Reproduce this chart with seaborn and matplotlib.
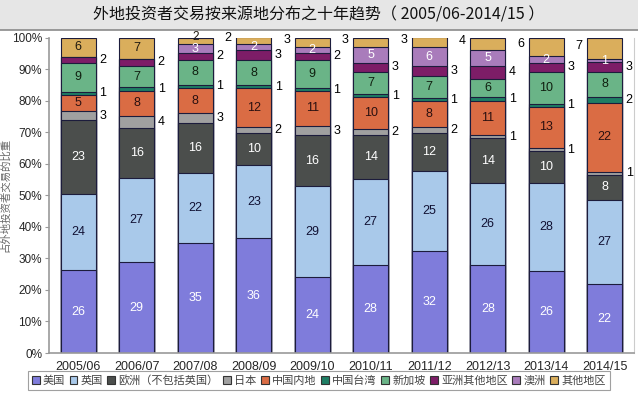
"""
外地投资者交易按来源地分布之十年趋势 —— 百分比堆积柱状图
"""
import matplotlib
matplotlib.use("Agg")
import matplotlib.pyplot as plt
from matplotlib.patches import Patch, Rectangle
from matplotlib.lines import Line2D
import numpy as np
import seaborn as sns

sns.set_style("white")
plt.rcParams["font.family"] = ["Liberation Sans", "Noto Sans CJK SC"]
plt.rcParams["axes.unicode_minus"] = False

# 数据（各来源地所占百分比）
periods = ["2005/06", "2006/07", "2007/08", "2008/09", "2009/10",
           "2010/11", "2011/12", "2012/13", "2013/14", "2014/15"]
us = [26, 29, 35, 36, 24, 28, 32, 28, 26, 22]
uk = [24, 27, 22, 23, 29, 27, 25, 26, 28, 27]
europe = [23, 16, 16, 10, 16, 14, 12, 14, 10, 8]
japan = [3, 4, 3, 2, 3, 2, 2, 1, 1, 1]
mainland = [5, 8, 8, 12, 11, 10, 8, 11, 13, 22]
taiwan = [1, 1, 1, 1, 1, 1, 1, 1, 1, 2]
singapore = [9, 7, 8, 8, 9, 7, 7, 6, 10, 8]
asia_other = [2, 2, 2, 3, 2, 3, 3, 4, 3, 3]
australia = [0, 0, 3, 2, 2, 5, 6, 5, 2, 1]
other = [6, 7, 2, 2, 3, 3, 3, 4, 6, 7]

series = [
    # 名称, 数值, 颜色, 标注颜色, 标注位置
    ("美国", us, "#7f7cdb", "white", "in"),
    ("英国", uk, "#a9c9ea", "#111133", "in"),
    ("欧洲（不包括英国）", europe, "#4b4e4c", "white", "in"),
    ("日本", japan, "#a0a0a0", "black", "right"),
    ("中国内地", mainland, "#da6c44", "#2a1010", "in"),
    ("中国台湾", taiwan, "#1e7e64", "black", "right"),
    ("新加坡", singapore, "#6ab487", "#102010", "in"),
    ("亚洲其他地区", asia_other, "#7d1d67", "black", "right"),
    ("澳洲", australia, "#a97cbb", "white", "in"),
    ("其他地区", other, "#daae5c", "#201a10", "in"),
]
# 其他地区：前三年标在柱内，之后标在柱左侧
other_pos = ["in", "in", "top", "left", "left", "left", "left", "left", "left", "left"]

edge = "#1c1c3c"
width = 0.6

vals = np.array([s[1] for s in series], dtype=float)
pct = vals / vals.sum(axis=0) * 100
cum = pct.cumsum(axis=0)

fig = plt.figure(figsize=(6.38, 3.97), dpi=100)
ax = fig.add_axes([49 / 638, 44 / 397, 585 / 638, 315.5 / 397])

# 标题栏
fig.patches.append(Rectangle((0, 1 - 30 / 397), 1, 30 / 397, transform=fig.transFigure,
                             facecolor="#e6e6e6", edgecolor="none", zorder=0))
fig.lines.append(Line2D([0, 1], [1 - 30 / 397] * 2, transform=fig.transFigure,
                        color="#8a8a8a", lw=1.2))
fig.text(0.5, 1 - 15 / 397, "外地投资者交易按来源地分布之十年趋势（ 2005/06-2014/15 ）",
         ha="center", va="center", fontsize=11.5, family=["Noto Sans CJK SC"], color="#111111")

# 由上至下叠加绘制累计高度，形成堆积效果
for k in range(len(series) - 1, -1, -1):
    sns.barplot(x=periods, y=cum[k], color=series[k][2], saturation=1, width=width,
                edgecolor=edge, linewidth=0.8, ax=ax)

# 数据标注
for k, (name, v, color, tcolor, pos) in enumerate(series):
    for i, val in enumerate(v):
        if val == 0:
            continue
        p = other_pos[i] if name == "其他地区" else pos
        yc = cum[k][i] - pct[k][i] / 2
        if p == "in":
            ax.text(i, yc, str(val), ha="center", va="center", fontsize=9, color=tcolor)
        elif p == "top":
            ax.text(i, yc + 1.2, str(val), ha="center", va="center", fontsize=8.5,
                    color=tcolor, clip_on=False)
        elif p == "right":
            ax.text(i + width / 2 + 0.06, yc, str(val), ha="left", va="center",
                    fontsize=9, color="black")
        else:
            ax.text(i - width / 2 - 0.08, yc + 0.8, str(val), ha="right", va="center",
                    fontsize=9, color="black")

ax.set_xlim(-0.5, len(periods) - 0.5)
ax.set_ylim(0, 100)
ax.set_yticks(np.arange(0, 101, 10))
ax.set_yticklabels([f"{t}%" for t in range(0, 101, 10)], fontsize=8.5)
ax.set_xticks(range(len(periods)))
ax.set_xticklabels(periods, fontsize=9)
ax.set_xticks(np.arange(0.5, len(periods) - 0.5, 1), minor=True)
ax.tick_params(axis="x", which="major", length=0, pad=6)
ax.tick_params(axis="x", which="minor", length=4, color="#999999", direction="out")
ax.tick_params(axis="y", length=3, color="#999999", direction="out", left=True, pad=2)
ax.set_xlabel("")
ax.set_ylabel("占外地投资者交易的比重", fontsize=7.5, color="#666666")
ax.yaxis.set_label_coords(-39 / 585, 0.5)

for side in ["left", "bottom"]:
    ax.spines[side].set_color("#999999")
    ax.spines[side].set_linewidth(1.2)
ax.spines["right"].set_color("#cccccc")
ax.spines["top"].set_visible(False)

handles = [Patch(facecolor=s[2], edgecolor="#333333", linewidth=0.8) for s in series]
labels = [s[0] for s in series]
leg = fig.legend(handles, labels, loc="upper left", bbox_to_anchor=(28 / 638, 1 - 371 / 397),
                 ncol=10, fontsize=8, frameon=True, fancybox=False, edgecolor="#888888",
                 handlelength=0.7, handleheight=0.7, handletextpad=0.3, columnspacing=0.4,
                 borderpad=0.35, borderaxespad=0)
leg.get_frame().set_linewidth(0.8)
for t in leg.get_texts():
    t.set_color("#444444")

fig.savefig("out.png", dpi=100)
plt.close(fig)
